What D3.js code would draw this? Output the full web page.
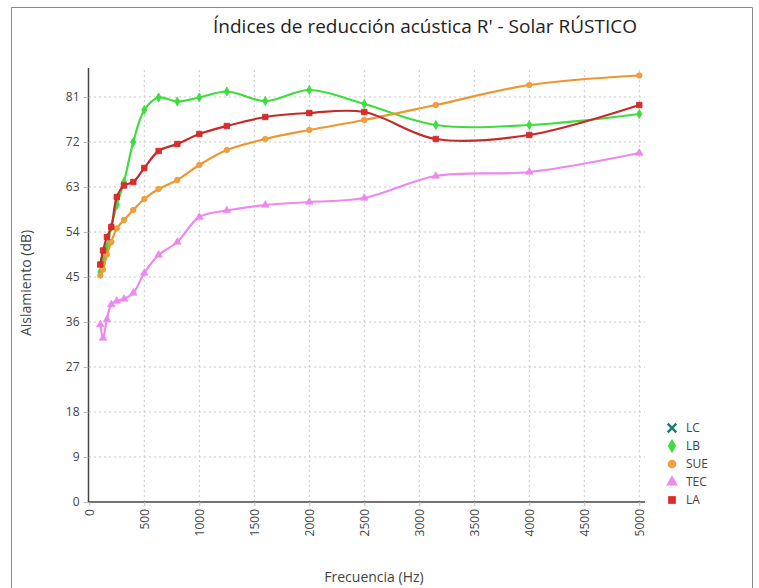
<!DOCTYPE html>
<meta charset="utf-8">
<style>
body { margin: 0; background: #fff; }
text { font-family: "Open Sans", "Noto Sans", sans-serif; fill: #333; }
.grid line { stroke: #c8c8c8; stroke-dasharray: 2,3; }
.axis path, .axis line { stroke: #444; }
.axis text { font-size: 12px; fill: #444; }
.serie { fill: none; stroke-width: 2.2px; }
</style>
<body>
<script src="https://d3js.org/d3.v7.min.js"></script>
<script>

var width = 759,
    height = 588;

// third-octave bands (Hz)
var freqs = [100, 125, 160, 200, 250, 315, 400, 500, 630, 800, 1000, 1250, 1600, 2000, 2500, 3150, 4000, 5000];

// values in dB
var LC  = [];
var LB  = [46, 48.5, 51, 55, 59.4, 64, 72, 78.4, 80.9, 80.1, 80.9, 82.1, 80.2, 82.4, 79.6, 75.4, 75.4, 77.6];
var SUE = [45.3, 46.5, 49.5, 52, 54.7, 56.4, 58.4, 60.6, 62.6, 64.4, 67.4, 70.4, 72.6, 74.4, 76.4, 79.4, 83.4, 85.3];
var TEC = [35.5, 32.8, 36.5, 39.5, 40.2, 40.6, 41.8, 45.8, 49.4, 52, 57, 58.3, 59.4, 60, 60.8, 65.2, 66, 69.8];
var LA  = [47.5, 50.3, 53, 55, 61, 63.3, 64, 66.8, 70.2, 71.6, 73.6, 75.2, 77, 77.8, 78, 72.6, 73.4, 79.4];

var xTicks = [0, 500, 1000, 1500, 2000, 2500, 3000, 3500, 4000, 4500, 5000];
var yTicks = [0, 9, 18, 27, 36, 45, 54, 63, 72, 81];

var series = [
  {name: "LC",  values: LC,  line: "#1b7f6e", fill: "#1b7f6e", symbol: "cross"},
  {name: "LB",  values: LB,  line: "#3fdc3f", fill: "#3fdc3f", symbol: "diamond"},
  {name: "SUE", values: SUE, line: "#ee962f", fill: "#f0a040", symbol: "circle"},
  {name: "TEC", values: TEC, line: "#ee88ee", fill: "#ee88ee", symbol: "triangle"},
  {name: "LA",  values: LA,  line: "#c52a2a", fill: "#e02a2a", symbol: "square"}
];

var x = d3.scaleLinear().domain([0, 5000]).range([89.3, 639.3]);
var y = d3.scaleLinear().domain([0, 86.8]).range([502, 68]);

var svg = d3.select("body").append("svg")
    .attr("width", width)
    .attr("height", height);

// outer frame
svg.append("path")
    .attr("d", "M11.5," + height + "V7.5H752.5V" + height)
    .attr("fill", "none")
    .attr("stroke", "#888");

svg.append("text")
    .attr("x", 425)
    .attr("y", 33)
    .attr("text-anchor", "middle")
    .style("font-size", "19px")
    .style("fill", "#222")
    .text("Índices de reducción acústica R' - Solar RÚSTICO");

// grid
svg.append("g").attr("class", "grid")
  .selectAll("line").data(xTicks.slice(1)).enter().append("line")
    .attr("x1", x).attr("x2", x)
    .attr("y1", y(0)).attr("y2", 68);

svg.append("g").attr("class", "grid")
  .selectAll("line").data(yTicks.slice(1)).enter().append("line")
    .attr("x1", 89).attr("x2", 645)
    .attr("y1", y).attr("y2", y);

// axes
var xAxis = svg.append("g")
    .attr("class", "axis")
    .attr("transform", "translate(0," + y(0) + ")")
    .call(d3.axisBottom(x).tickValues(xTicks).tickFormat(d3.format("d")).tickSizeOuter(0).tickSize(4));
xAxis.select(".domain").attr("d", "M88,0H645").style("stroke-width", 1.5);
xAxis.selectAll(".tick line").style("stroke", "#bbb");
xAxis.selectAll(".tick text")
    .attr("transform", "rotate(-90)")
    .attr("text-anchor", "end")
    .attr("x", -7)
    .attr("y", 0)
    .attr("dy", "0.35em");

var yAxis = svg.append("g")
    .attr("class", "axis")
    .attr("transform", "translate(88.5,0)")
    .call(d3.axisLeft(y).tickValues(yTicks).tickSizeOuter(0).tickSize(5).tickPadding(4));
yAxis.select(".domain").attr("d", "M0,68V" + y(0)).style("stroke-width", 1.5);
yAxis.selectAll(".tick line").style("stroke", "#bbb");

svg.append("text")
    .attr("transform", "translate(31,283) rotate(-90)")
    .attr("text-anchor", "middle")
    .style("font-size", "14px")
    .style("fill", "#444")
    .text("Aislamiento (dB)");

svg.append("text")
    .attr("x", 374)
    .attr("y", 582)
    .attr("text-anchor", "middle")
    .style("font-size", "14px")
    .style("fill", "#444")
    .text("Frecuencia (Hz)");

var line = d3.line()
    .curve(d3.curveCatmullRom.alpha(0.5))
    .x(function(d) { return x(d[0]); })
    .y(function(d) { return y(d[1]); });

var symbols = {
  cross: d3.symbolX, diamond: d3.symbolDiamond, circle: d3.symbolCircle,
  triangle: d3.symbolTriangle, square: d3.symbolSquare
};

series.forEach(function(s) {
  var pts = s.values.map(function(v, i) { return [freqs[i], v]; });
  if (!pts.length) return;
  var g = svg.append("g");
  g.append("path")
      .attr("class", "serie")
      .attr("stroke", s.line)
      .attr("d", line(pts));
  g.selectAll("path.pt").data(pts).enter().append("path")
      .attr("class", "pt")
      .attr("transform", function(d) { return "translate(" + x(d[0]) + "," + y(d[1]) + ")"; })
      .attr("d", d3.symbol().type(symbols[s.symbol]).size(s.symbol == "square" ? 30 : 24))
      .attr("fill", s.fill)
      .attr("stroke", s.line)
      .attr("stroke-width", 0.8);
});

// legend
var legend = svg.append("g").attr("transform", "translate(672,428)");
var item = legend.selectAll("g").data(series).enter().append("g")
    .attr("transform", function(d, i) { return "translate(0," + i * 18 + ")"; });
item.append("path")
    .attr("d", function(d) { return d3.symbol().type(symbols[d.symbol]).size(d.symbol == "cross" ? 50 : 60)(); })
    .attr("fill", function(d) { return d.fill; })
    .attr("stroke", function(d) { return d.symbol == "cross" ? d.fill : "none"; })
    .attr("stroke-width", function(d) { return d.symbol == "cross" ? 2.5 : 0; });
item.append("text")
    .attr("x", 14)
    .attr("dy", "0.35em")
    .style("font-size", "12px")
    .style("fill", "#444")
    .text(function(d) { return d.name; });

</script>
